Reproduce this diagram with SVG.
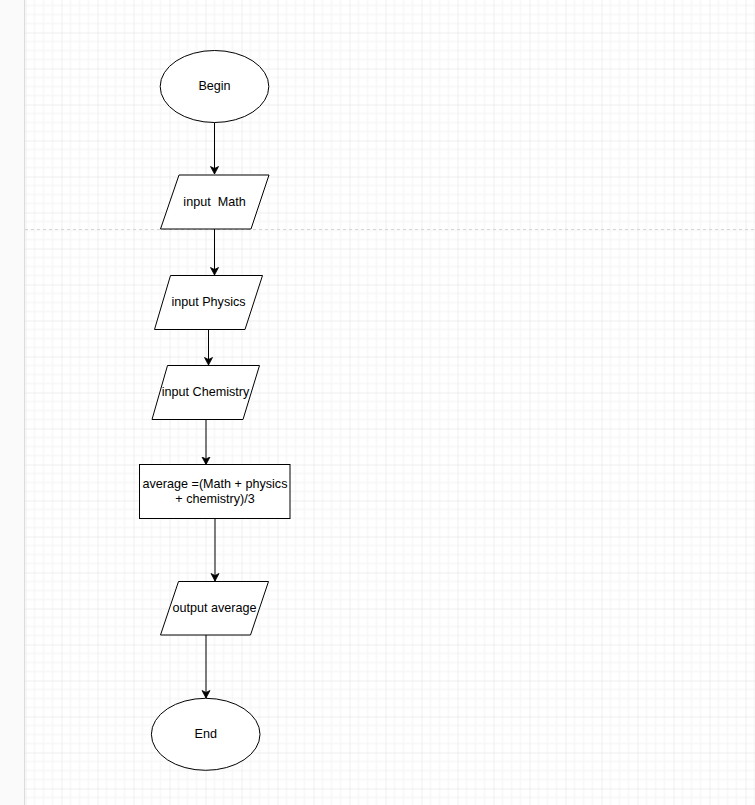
<svg xmlns="http://www.w3.org/2000/svg" width="755" height="805" viewBox="0 0 755 805">
<style>
.shape{fill:#ffffff;stroke:#000000;stroke-width:1}
.conn{fill:none;stroke:#000000;stroke-width:1}
.lbl{font-family:"Liberation Sans",Arial,Helvetica,sans-serif;font-size:12.6px;fill:#000000;text-anchor:middle;dominant-baseline:central}
</style>
<defs>
<pattern id="grid" patternUnits="userSpaceOnUse" x="25.5" y="-3.5" width="36" height="36">
<path d="M9 0V36M18 0V36M27 0V36M0 9H36M0 18H36M0 27H36" stroke="#f3f3f3" stroke-width="1" fill="none"/>
<path d="M0 0V36M0 0H36" stroke="#dfdfdf" stroke-width="1" fill="none"/>
</pattern>
<marker id="arrow" markerWidth="10" markerHeight="10" refX="8" refY="5" orient="auto" markerUnits="userSpaceOnUse">
<path d="M0.5 1 L8 5 L0.5 9 L2.5 5 Z" fill="#000000" stroke="#000000" stroke-width="0.8"/>
</marker>
</defs>
<rect x="0" y="0" width="755" height="805" fill="#ffffff"/>
<rect x="25" y="0" width="730" height="805" fill="url(#grid)"/>
<rect x="0" y="0" width="24" height="805" fill="#fafafa"/>
<line x1="24.5" y1="0" x2="24.5" y2="805" stroke="#dcdcdc" stroke-width="1"/>
<line x1="25" y1="229.5" x2="755" y2="229.5" stroke="#d4d4d4" stroke-width="1" stroke-dasharray="3,3"/>

<g id="connectors">
<line class="conn" x1="214.5" y1="122.5" x2="214.5" y2="174" marker-end="url(#arrow)"/>
<line class="conn" x1="214.5" y1="229" x2="214.5" y2="275" marker-end="url(#arrow)"/>
<line class="conn" x1="208.5" y1="329.5" x2="208.5" y2="365" marker-end="url(#arrow)"/>
<line class="conn" x1="206" y1="419.5" x2="206" y2="464.5" marker-end="url(#arrow)"/>
<line class="conn" x1="215" y1="518.5" x2="215" y2="581" marker-end="url(#arrow)"/>
<line class="conn" x1="206" y1="635" x2="206" y2="698" marker-end="url(#arrow)"/>
</g>

<g id="begin">
<ellipse class="shape" cx="214.5" cy="86.5" rx="54.3" ry="36"/>
<text class="lbl" x="214.5" y="86">Begin</text>
</g>

<g id="input-math">
<polygon class="shape" points="179,175 269,175 251,229 160.5,229"/>
<text class="lbl" x="214.5" y="201.5" xml:space="preserve">input  Math</text>
</g>

<g id="input-physics">
<polygon class="shape" points="170.5,275.5 262.5,275.5 245,329.5 154.5,329.5"/>
<text class="lbl" x="208.5" y="301.5">input Physics</text>
</g>

<g id="input-chemistry">
<polygon class="shape" points="167.5,365.5 259.5,365.5 243,419.5 152,419.5"/>
<text class="lbl" x="205.5" y="391.5">input Chemistry</text>
</g>

<g id="average">
<rect class="shape" x="139.5" y="464.5" width="150.5" height="54"/>
<text class="lbl" x="215" y="484">average =(Math + physics</text>
<text class="lbl" x="215" y="499">+ chemistry)/3</text>
</g>

<g id="output-average">
<polygon class="shape" points="178.5,581.5 268.5,581.5 250.5,635 160.5,635"/>
<text class="lbl" x="214.5" y="607.5">output average</text>
</g>

<g id="end">
<ellipse class="shape" cx="205.7" cy="734.3" rx="54.3" ry="36"/>
<text class="lbl" x="205.7" y="733.5">End</text>
</g>
</svg>
